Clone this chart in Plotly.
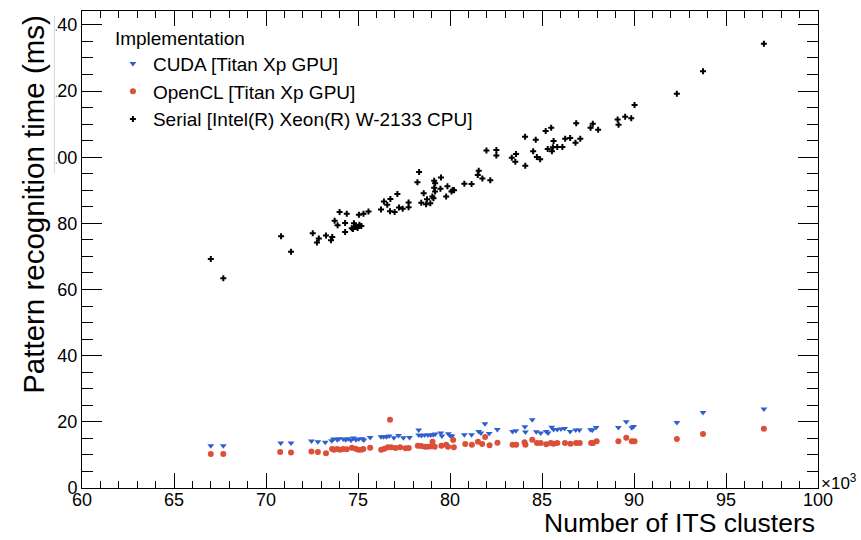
import plotly.graph_objects as go

# ---- data (x in thousands of ITS clusters, y in ms) ----
serial_x = [67.00, 67.68, 70.82, 71.36, 72.54, 72.87, 72.77, 73.26, 73.60, 73.53, 73.73, 74.00, 73.89,
            74.30, 74.30, 74.39, 74.66, 74.73, 74.88, 75.08, 74.98, 75.18, 74.78, 75.05, 75.30, 75.57,
            76.25, 76.41, 76.59, 76.76, 76.74, 76.99, 77.14, 77.23, 77.43, 77.75, 77.75, 78.32, 78.23,
            78.44, 78.57, 78.70, 78.75, 78.93, 79.04, 79.14, 79.19, 79.14, 79.19, 79.10, 79.51, 79.48,
            79.79, 79.86, 80.08, 80.15, 80.22, 80.78, 81.17, 81.56, 81.51, 81.76, 82.19, 81.98, 82.52,
            82.52, 83.36, 83.59, 83.55, 84.08, 84.09, 84.66, 84.52, 84.72, 84.90, 85.20, 85.50, 85.63,
            85.31, 85.54, 85.59, 85.83, 86.11, 86.26, 86.53, 86.86, 86.82, 87.08, 87.64, 87.76, 88.05,
            89.11, 89.16, 89.52, 89.85, 90.03, 92.33, 93.75, 97.06]
serial_y = [69.2, 63.4, 76.1, 71.4, 77.0, 75.4, 74.2, 76.3, 75.9, 74.9, 80.8, 83.4, 79.4,
            80.1, 77.4, 82.9, 78.5, 78.3, 79.0, 79.6, 78.6, 79.2, 80.0, 82.6, 82.9, 83.6,
            84.2, 86.6, 85.6, 87.4, 83.7, 83.4, 88.9, 84.8, 84.4, 86.3, 84.9, 95.5, 92.4,
            86.2, 89.1, 85.8, 87.3, 86.1, 88.1, 92.9, 92.1, 90.8, 89.6, 87.6, 93.9, 90.5,
            88.1, 91.2, 89.6, 90.1, 90.0, 92.0, 91.9, 95.9, 94.6, 93.6, 93.0, 102.0, 102.2,
            100.5, 99.8, 101.0, 98.6, 106.2, 97.4, 105.3, 101.8, 100.1, 99.4, 107.9, 108.9, 104.9,
            102.5, 101.8, 103.0, 103.1, 103.1, 105.6, 105.8, 110.3, 104.4, 105.6, 108.9, 110.1, 108.3,
            111.4, 109.8, 112.2, 111.8, 115.8, 119.2, 126.0, 134.3]

cuda_x = [67.00, 67.68, 70.80, 71.36, 72.47, 72.82, 73.22, 73.57, 73.67, 73.87, 73.97, 74.20, 74.33,
          74.47, 74.62, 74.75, 74.89, 75.04, 75.23, 75.32, 75.66, 76.25, 76.39, 76.54, 76.69, 76.95,
          77.20, 77.47, 77.80, 78.30, 78.30, 78.45, 78.62, 78.80, 78.95, 79.09, 79.20, 79.50, 79.56,
          79.91, 80.01, 80.11, 80.78, 81.17, 81.56, 81.68, 81.90, 82.13, 82.57, 83.40, 83.58, 84.07,
          84.10, 84.47, 84.69, 84.93, 85.23, 85.33, 85.53, 85.63, 85.83, 86.03, 86.23, 86.53, 86.83,
          87.03, 87.64, 87.74, 87.94, 89.15, 89.58, 89.88, 89.98, 92.33, 93.75, 97.06]
cuda_y = [12.8, 12.8, 13.6, 13.6, 14.2, 14.0, 13.8, 14.3, 14.8, 14.6, 14.9, 14.8, 14.6,
          14.9, 14.4, 15.1, 14.6, 14.8, 14.9, 14.5, 15.3, 15.5, 15.5, 15.5, 15.7, 15.2,
          15.9, 15.2, 15.3, 17.5, 16.0, 15.9, 16.0, 16.0, 16.0, 16.1, 16.3, 16.6, 15.7,
          16.4, 15.8, 15.7, 16.1, 16.1, 17.1, 16.6, 19.4, 16.5, 17.7, 17.1, 17.3, 18.5,
          16.9, 20.6, 17.0, 16.6, 17.1, 16.6, 18.4, 17.7, 17.7, 17.8, 18.0, 17.1, 17.5,
          17.5, 17.6, 17.5, 18.3, 18.3, 20.0, 18.2, 18.6, 19.8, 22.8, 23.9]

opencl_x = [67.00, 67.68, 70.77, 71.36, 72.47, 72.82, 73.26, 73.59, 73.70, 73.86, 74.03, 74.20, 74.39,
            74.67, 74.87, 75.02, 75.18, 75.29, 75.66, 76.74, 76.26, 76.44, 76.62, 76.80, 77.04, 77.29,
            77.58, 77.76, 78.25, 78.43, 78.63, 78.81, 78.99, 79.05, 79.17, 79.53, 79.79, 79.89, 80.17,
            80.21, 80.83, 81.19, 81.52, 81.75, 81.91, 82.15, 82.58, 83.40, 83.60, 84.05, 84.10, 84.47,
            84.73, 84.93, 85.23, 85.48, 85.63, 85.83, 86.25, 86.55, 86.85, 87.05, 87.67, 87.77, 87.97,
            89.15, 89.58, 89.88, 90.03, 92.33, 93.75, 97.06]
opencl_y = [10.3, 10.3, 10.9, 10.7, 11.0, 10.9, 10.5, 11.8, 11.6, 11.8, 11.6, 11.8, 11.7,
            12.2, 11.9, 11.6, 11.6, 11.8, 12.2, 20.6, 11.6, 11.9, 12.3, 12.3, 12.1, 12.3,
            12.0, 12.1, 12.8, 12.7, 12.5, 12.5, 12.6, 14.0, 12.5, 12.8, 13.1, 12.5, 14.5,
            12.3, 13.3, 13.1, 14.0, 13.3, 15.4, 12.9, 13.7, 13.1, 13.1, 13.8, 13.1, 14.6,
            13.6, 13.6, 13.2, 13.6, 13.4, 13.6, 13.6, 13.4, 13.6, 13.6, 13.6, 13.6, 14.1,
            14.1, 15.2, 14.1, 14.1, 14.8, 16.3, 17.9]

series_names = ["CUDA [Titan Xp GPU]", "OpenCL [Titan Xp GPU]", "Serial [Intel(R) Xeon(R) W-2133 CPU]"]
x_ticks = [60, 65, 70, 75, 80, 85, 90, 95, 100]
y_ticks = [0, 20, 40, 60, 80, 100, 120, 140]

FONT = "Liberation Sans, Arial, Helvetica, sans-serif"

fig = go.Figure()
fig.add_trace(go.Scatter(x=cuda_x, y=cuda_y, mode="markers", name=series_names[0], legendgroup="a",
                         marker=dict(symbol="triangle-down", size=6, color="#2f5fcf", line=dict(width=0))))
fig.add_trace(go.Scatter(x=opencl_x, y=opencl_y, mode="markers", name=series_names[1], legendgroup="b",
                         marker=dict(symbol="circle", size=6, color="#dc4f38", line=dict(width=0))))
fig.add_trace(go.Scatter(x=serial_x, y=serial_y, mode="markers", name=series_names[2], legendgroup="c",
                         marker=dict(symbol="cross", size=5, color="black", line=dict(width=0))))

axis_common = dict(showline=True, linecolor="black", linewidth=1, mirror="allticks", ticks="inside",
                   tickcolor="black", tickwidth=1, showgrid=False, zeroline=False,
                   tickfont=dict(family=FONT, size=18, color="black"))

fig.update_xaxes(range=[60, 100], tickvals=x_ticks, ticklen=15, ticklabelstandoff=-5,
                 minor=dict(dtick=1, ticks="inside", ticklen=7, tickcolor="black", tickwidth=1, showgrid=False),
                 **axis_common)
fig.update_yaxes(range=[0, 144.2], tickvals=y_ticks, ticklen=20,
                 minor=dict(dtick=5, ticks="inside", ticklen=11, tickcolor="black", tickwidth=1, showgrid=False),
                 **axis_common)

fig.update_layout(
    width=861, height=540,
    margin=dict(l=82, r=43, t=11, b=52),
    paper_bgcolor="white", plot_bgcolor="white",
    font=dict(family=FONT, color="black"),
    showlegend=True,
    legend=dict(x=0.042, y=0.981, xanchor="left", yanchor="top", bgcolor="rgba(0,0,0,0)",
                font=dict(family=FONT, size=19, color="black"),
                title=dict(text="Implementation", font=dict(family=FONT, size=19, color="black")),
                tracegroupgap=0, itemsizing="trace"),
    shapes=[
        dict(type="rect", xref="paper", yref="paper", x0=-0.13, x1=-0.0355, y0=0.65, y1=1.05,
             fillcolor="white", line=dict(width=0), layer="above"),
        dict(type="line", xref="paper", yref="paper", x0=-0.0375, x1=-0.0375, y0=0.66, y1=0.99,
             line=dict(color="#d6d6d6", width=1), layer="above"),
    ],
    annotations=[
        dict(text="Pattern recognition time (ms)", xref="paper", yref="paper", x=-0.066, y=0.996,
             xanchor="center", yanchor="top", textangle=-90, showarrow=False,
             font=dict(family=FONT, size=29.5, color="black")),
        dict(text="Number of ITS clusters", xref="paper", yref="paper", x=0.998, y=-0.074,
             xanchor="right", yanchor="middle", showarrow=False,
             font=dict(family=FONT, size=26.5, color="black")),
        dict(text="×10<sup>3</sup>", xref="paper", yref="paper", x=1.002, y=0.013,
             xanchor="left", yanchor="middle", showarrow=False,
             font=dict(family=FONT, size=17, color="black")),
    ],
)

fig.write_html("out.html")
